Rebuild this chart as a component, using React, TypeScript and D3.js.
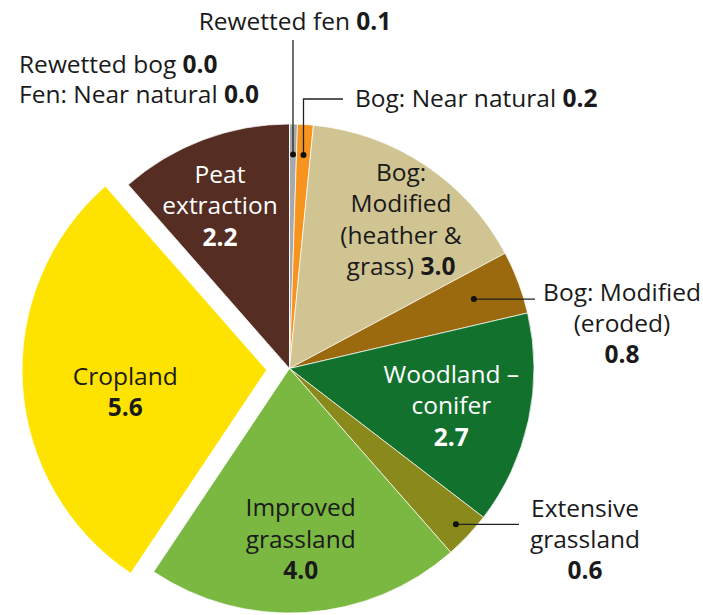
import { useMemo } from "react";
import * as d3 from "d3";

const categories = [
  "Rewetted fen",
  "Bog: Near natural",
  "Bog: Modified (heather & grass)",
  "Bog: Modified (eroded)",
  "Woodland – conifer",
  "Extensive grassland",
  "Improved grassland",
  "Cropland",
  "Peat extraction",
  "Rewetted bog",
  "Fen: Near natural",
];
const values = [0.1, 0.2, 3.0, 0.8, 2.7, 0.6, 4.0, 5.6, 2.2, 0.0, 0.0];
const colors = [
  "#a7a9ac",
  "#f7941d",
  "#d0c493",
  "#9c6a0e",
  "#12722d",
  "#8a8a1c",
  "#7bb842",
  "#ffe300",
  "#552d22",
  "#777777",
  "#777777",
];

const WIDTH = 703;
const HEIGHT = 615;
const CX = 289.5;
const CY = 368.5;
const R = 244.5;
const FONT = "'Open Sans', 'Noto Sans', sans-serif";
const FS = 24.5;
const LH = 31.5;
const DARK = "#1a1a1a";

// inside labels: slice index, lines, polar radius and angle nudge (deg)
const insideLabels = [
  { i: 8, lines: ["Peat", "extraction"], r: 177, da: -2.5, fill: "#fff" },
  { i: 2, lines: ["Bog:", "Modified", "(heather &", "grass)"], r: 186, da: 3.1, fill: DARK, inline: true },
  { i: 4, lines: ["Woodland –", "conifer"], r: 166, da: 0.7, fill: "#fff" },
  { i: 6, lines: ["Improved", "grassland"], r: 171, da: 0, fill: DARK },
  { i: 7, lines: ["Cropland"], r: 143, da: -5, fill: DARK },
];

const explode: Record<number, number> = { 7: 23 };

function polar(angle: number, r: number): [number, number] {
  return [Math.sin(angle) * r, -Math.cos(angle) * r];
}

export default function App() {
  const arcs = useMemo(
    () =>
      d3
        .pie<number>()
        .sort(null)
        .value((d) => d)(values),
    []
  );
  const arc = d3.arc<d3.PieArcDatum<number>>().innerRadius(0).outerRadius(R);
  const mid = (k: number) => (arcs[k].startAngle + arcs[k].endAngle) / 2;
  const fmt = d3.format(".1f");

  const offset = (k: number): [number, number] =>
    explode[k] ? polar(mid(k), explode[k]) : [0, 0];

  // leader dots
  const dot = (k: number, r: number): [number, number] => {
    const [x, y] = polar(mid(k), r);
    return [CX + x, CY + y];
  };
  const fenDot = dot(0, 214);
  const bogNNDot = dot(1, 214);
  const erodedDot = dot(3, 197);
  const extDot = dot(5, 228);

  return (
    <svg
      width={WIDTH}
      height={HEIGHT}
      style={{ position: "absolute", left: 0, top: 0, background: "#fff" }}
      fontFamily={FONT}
      fontSize={FS}
    >
      <g transform={`translate(${CX},${CY})`}>
        {arcs.map((a, k) => {
          const [ox, oy] = offset(k);
          return (
            <path
              key={categories[k]}
              d={arc(a) ?? ""}
              transform={`translate(${ox},${oy})`}
              fill={colors[k]}
              stroke="#fff"
              strokeWidth={0.7}
            />
          );
        })}
      </g>

      {insideLabels.map((l) => {
        const [ox, oy] = offset(l.i);
        const [px, py] = polar(mid(l.i) + (l.da * Math.PI) / 180, l.r);
        const n = l.inline ? l.lines.length : l.lines.length + 1;
        const x = CX + ox + px;
        const y0 = CY + oy + py - ((n - 1) * LH) / 2 + 8.5;
        return (
          <text key={l.i} x={x} y={y0} textAnchor="middle" fill={l.fill}>
            {l.lines.map((s, j) => (
              <tspan key={j} x={x} y={y0 + j * LH}>
                {s}
                {l.inline && j === l.lines.length - 1 ? (
                  <tspan fontWeight="bold"> {fmt(values[l.i])}</tspan>
                ) : null}
              </tspan>
            ))}
            {!l.inline ? (
              <tspan x={x} y={y0 + l.lines.length * LH} fontWeight="bold">
                {fmt(values[l.i])}
              </tspan>
            ) : null}
          </text>
        );
      })}

      {/* Rewetted fen */}
      <line x1={fenDot[0]} x2={fenDot[0]} y1={40} y2={fenDot[1]} stroke="#222" strokeWidth={1.3} />
      <circle cx={fenDot[0]} cy={fenDot[1]} r={3} fill="#111" />
      <text x={295} y={30} textAnchor="middle" fill={DARK}>
        {categories[0]} <tspan fontWeight="bold">{fmt(values[0])}</tspan>
      </text>

      {/* Bog: Near natural */}
      <polyline
        points={`${bogNNDot[0]},${bogNNDot[1]} ${bogNNDot[0]},99 343,99`}
        fill="none"
        stroke="#222"
        strokeWidth={1.3}
      />
      <circle cx={bogNNDot[0]} cy={bogNNDot[1]} r={3} fill="#111" />
      <text x={355} y={107} fill={DARK}>
        {categories[1]} <tspan fontWeight="bold">{fmt(values[1])}</tspan>
      </text>

      {/* zero slices */}
      <text x={19} y={73} fill={DARK}>
        {categories[9]} <tspan fontWeight="bold">{fmt(values[9])}</tspan>
      </text>
      <text x={19} y={103} fill={DARK}>
        {categories[10]} <tspan fontWeight="bold">{fmt(values[10])}</tspan>
      </text>

      {/* Bog: Modified (eroded) */}
      <line x1={erodedDot[0]} x2={535} y1={erodedDot[1]} y2={erodedDot[1]} stroke="#222" strokeWidth={1.3} />
      <circle cx={erodedDot[0]} cy={erodedDot[1]} r={3} fill="#111" />
      <text textAnchor="middle" fill={DARK}>
        <tspan x={622} y={301}>Bog: Modified</tspan>
        <tspan x={622} y={332}>(eroded)</tspan>
        <tspan x={622} y={363} fontWeight="bold">{fmt(values[3])}</tspan>
      </text>

      {/* Extensive grassland */}
      <line x1={extDot[0]} x2={519} y1={extDot[1]} y2={extDot[1]} stroke="#222" strokeWidth={1.3} />
      <circle cx={extDot[0]} cy={extDot[1]} r={3} fill="#111" />
      <text textAnchor="middle" fill={DARK}>
        <tspan x={585} y={517}>Extensive</tspan>
        <tspan x={585} y={548}>grassland</tspan>
        <tspan x={585} y={579} fontWeight="bold">{fmt(values[5])}</tspan>
      </text>
    </svg>
  );
}
